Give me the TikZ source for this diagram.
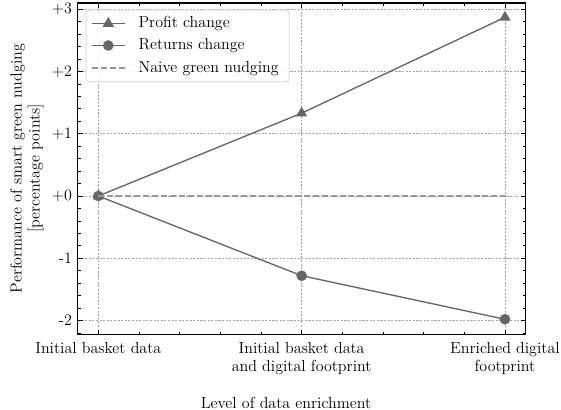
\documentclass[tikz,border=0pt]{standalone}
\usetikzlibrary{shapes.geometric}
\definecolor{lc}{RGB}{102,102,102}
\definecolor{nc}{RGB}{150,150,150}
\definecolor{gc}{RGB}{165,165,165}
\definecolor{bc}{RGB}{210,210,210}
\tikzset{
  gridline/.style={gc, line width=0.5pt, dash pattern=on 1.6pt off 1.1pt},
  dataline/.style={lc, line width=1pt},
  naive/.style={nc, line width=1.5pt, dash pattern=on 4.5pt off 2.2pt},
  axisframe/.style={black, line width=0.8pt},
  tickmark/.style={black, line width=0.6pt},
  trimark/.style={regular polygon, regular polygon sides=3, fill=lc, draw=none, inner sep=0pt, minimum size=9.8pt},
  dotmark/.style={circle, fill=lc, draw=none, inner sep=0pt, minimum size=8pt},
  legendbox/.style={draw=bc, line width=0.6pt, fill=white, fill opacity=0.85, rounded corners=2.5pt},
  lbl/.style={inner sep=0pt, text=black}
}
\begin{document}
\begin{tikzpicture}[x=0.75pt,y=-0.75pt, font=\fontsize{12}{13.5}\selectfont]
\useasboundingbox (0,0) rectangle (561,410);
\begin{scope}[shift={(73.725pt,-147pt)}, x=152.5pt, y=46.7pt]
  % grid
  \foreach \gx in {0,1,2} \draw[gridline] (\gx,-2.22) -- (\gx,3.1);
  \foreach \gy in {-2,-1,0,1,2,3} \draw[gridline] (-0.1,\gy) -- (2.1,\gy);
  % data points
  \coordinate (p0) at (0,0);
  \coordinate (p1) at (1,1.33);
  \coordinate (p2) at (2,2.87);
  \coordinate (r0) at (0,0);
  \coordinate (r1) at (1,-1.28);
  \coordinate (r2) at (2,-1.98);
  \coordinate (n0) at (0,0);
  \coordinate (n2) at (2,0);
  \draw[dataline] (p0) -- (p1) -- (p2);
  \node[trimark] (mp0) at (p0) {};
  \node[trimark] (mp1) at (p1) {};
  \node[trimark] (mp2) at (p2) {};
  \draw[dataline] (r0) -- (r1) -- (r2);
  \node[dotmark] (mr0) at (r0) {};
  \node[dotmark] (mr1) at (r1) {};
  \node[dotmark] (mr2) at (r2) {};
  \draw[naive] (n0) -- (n2);
  % frame
  \draw[axisframe] (-0.1,-2.22) rectangle (2.1,3.1);
  % y ticks
  \foreach \v in {-2.2,-1.8,-1.6,-1.4,-1.2,-0.8,-0.6,-0.4,-0.2,0.2,0.4,0.6,0.8,1.2,1.4,1.6,1.8,2.2,2.4,2.6,2.8,3.0} {
    \draw[tickmark] (-0.1,\v) -- ++(2pt,0);
    \draw[tickmark] (2.1,\v) -- ++(-2pt,0);
  }
  \foreach \v in {-2,-1,0,1,2,3} {
    \draw[tickmark] (-0.1,\v) -- ++(3.5pt,0);
    \draw[tickmark] (2.1,\v) -- ++(-3.5pt,0);
  }
  % x ticks
  \foreach \u in {0.2,0.4,0.6,0.8,1.2,1.4,1.6,1.8} {
    \draw[tickmark] (\u,-2.22) -- ++(0,2pt);
    \draw[tickmark] (\u,3.1) -- ++(0,-2pt);
  }
  \foreach \u in {0,1,2} {
    \draw[tickmark] (\u,-2.22) -- ++(0,3.5pt);
    \draw[tickmark] (\u,3.1) -- ++(0,-3.5pt);
  }
  % y tick labels
  \foreach \v/\t [count=\k] in {3/+3,2/+2,1/+1,0/+0,-1/-1,-2/-2}
    \node[lbl, anchor=east, xshift=-4.3pt] (yt\k) at (-0.1,\v) {\t};
  % x tick labels
  \node[lbl, anchor=north, yshift=-5.8pt, align=center] (xt1) at (0,-2.22) {Initial basket data};
  \node[lbl, anchor=north, yshift=-5.8pt, align=center] (xt2) at (1,-2.22) {Initial basket data\\and digital footprint};
  \node[lbl, anchor=north, yshift=-5.8pt, align=center] (xt3) at (2,-2.22) {Enriched digital\\footprint};
\end{scope}
% axis labels
\node[lbl, anchor=base] (xlab) at (286,408) {Level of data enrichment};
\node[lbl, rotate=90, align=center] (ylab) at (27,168.5) {Performance of smart green nudging\\{}[percentage points]};
% legend
\draw[legendbox] (86,10) rectangle (289.3,81.7);
\coordinate (la1) at (91.7,23.5); \coordinate (lb1) at (125,23.5);
\coordinate (la2) at (91.7,45.5); \coordinate (lb2) at (125,45.5);
\coordinate (la3) at (91.7,67.8); \coordinate (lb3) at (125,67.8);
\draw[dataline] (la1) -- (lb1);
\node[trimark] (lm1) at (108.3,23.5) {};
\draw[dataline] (la2) -- (lb2);
\node[dotmark] (lm2) at (108.3,45.5) {};
\draw[naive] (la3) -- (lb3);
\node[lbl, anchor=base west] (lt1) at (138.3,27.8) {Profit change};
\node[lbl, anchor=base west] (lt2) at (138.3,49.8) {Returns change};
\node[lbl, anchor=base west] (lt3) at (138.3,72.1) {Naive green nudging};
\end{tikzpicture}
\end{document}
